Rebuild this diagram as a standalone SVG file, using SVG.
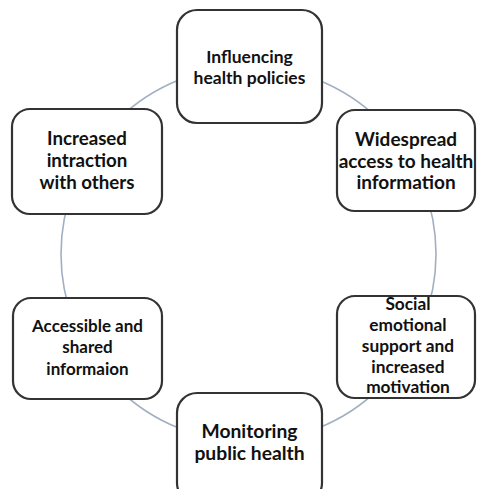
<svg xmlns="http://www.w3.org/2000/svg" width="477" height="489" viewBox="0 0 477 489">
<style>
.box{fill:#fff;stroke:#333;stroke-width:2.2}
.conn{fill:none;stroke:#a2afc2;stroke-width:1.6}
text{font-family:Lato,"Liberation Sans",sans-serif;font-weight:bold;fill:#111;text-anchor:middle}
</style>
<rect width="477" height="489" fill="#fff"/>
<g id="connectors">
<circle class="conn" cx="248.5" cy="254" r="187.5"/>
</g>
<g id="n1">
<rect class="box" x="177" y="10" width="145" height="113" rx="20"/>
<text x="249.5" y="63" font-size="17.5">Influencing</text>
<text x="249.5" y="84" font-size="17.5">health policies</text>
</g>
<g id="n2">
<rect class="box" x="337" y="110" width="138" height="101" rx="18"/>
<text x="406" y="146" font-size="19">Widespread</text>
<text x="406" y="168" font-size="19">access to health</text>
<text x="406" y="189" font-size="19">information</text>
</g>
<g id="n3">
<rect class="box" x="337" y="296" width="138" height="102" rx="18"/>
<text x="408" y="310" font-size="17.3">Social</text>
<text x="408" y="331" font-size="17.3">emotional</text>
<text x="408" y="352" font-size="17.3">support and</text>
<text x="408" y="373" font-size="17.3">increased</text>
<text x="408" y="393" font-size="17.3">motivation</text>
</g>
<g id="n4">
<rect class="box" x="177" y="393" width="145" height="110" rx="20"/>
<text x="249.5" y="438" font-size="19.3">Monitoring</text>
<text x="249.5" y="460" font-size="19.3">public health</text>
</g>
<g id="n5">
<rect class="box" x="13" y="298" width="149" height="101" rx="18"/>
<text x="87.5" y="332" font-size="17">Accessible and</text>
<text x="87.5" y="353" font-size="17">shared</text>
<text x="87.5" y="375" font-size="17">informaion</text>
</g>
<g id="n6">
<rect class="box" x="12" y="109" width="150" height="105" rx="18"/>
<text x="87" y="145" font-size="18.7">Increased</text>
<text x="87" y="167" font-size="18.7">intraction</text>
<text x="87" y="189" font-size="18.7">with others</text>
</g>
</svg>
